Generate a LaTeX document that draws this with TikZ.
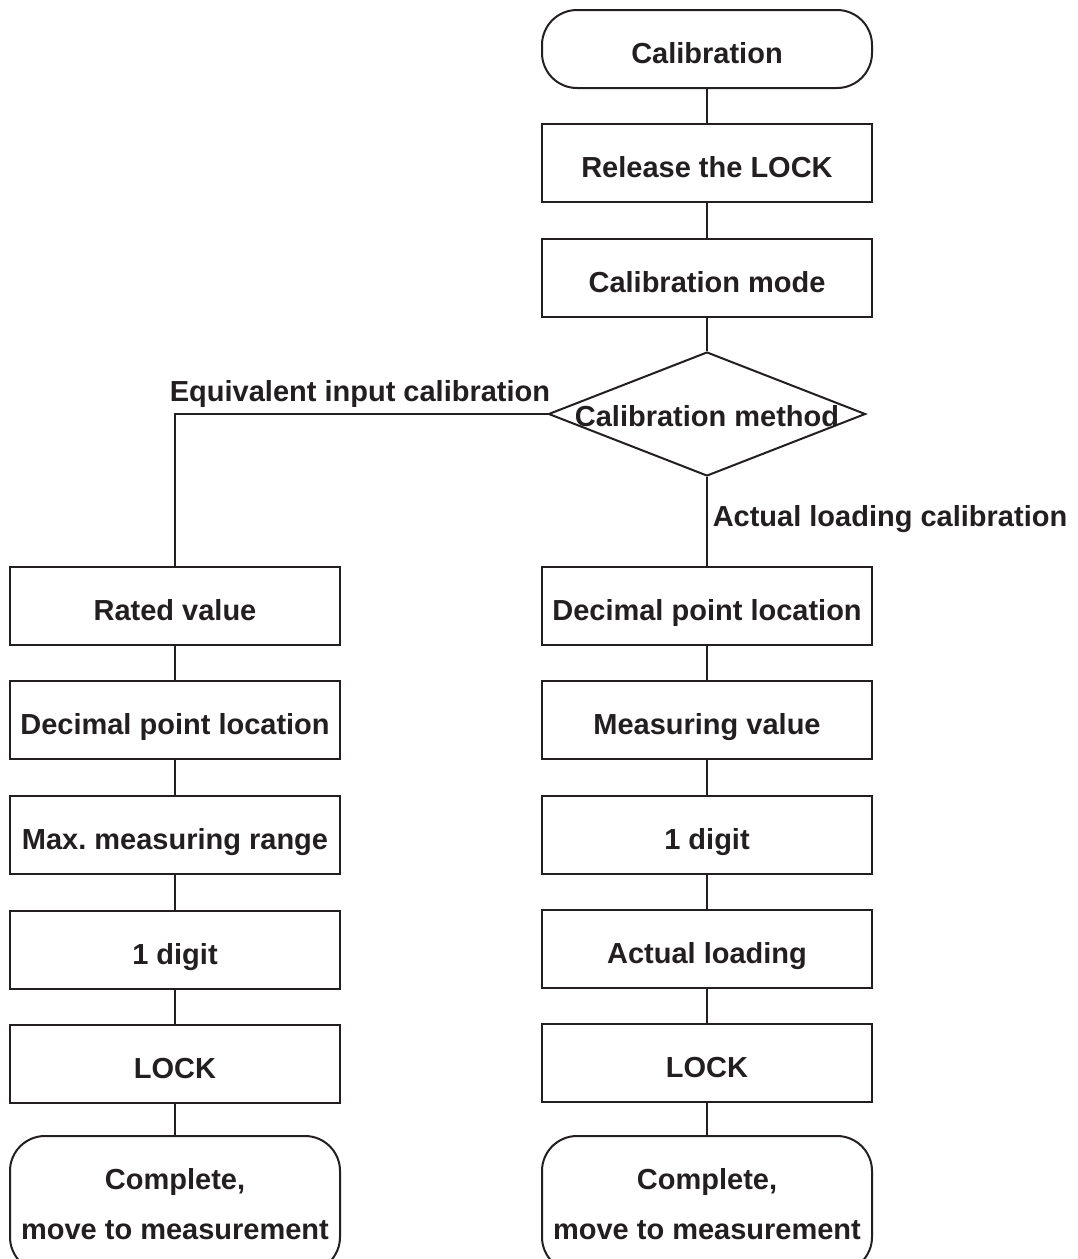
\documentclass[tikz,border=0pt]{standalone}
\usepackage{fontspec}
\setmainfont{Liberation Sans}
\usetikzlibrary{shapes.geometric}
\definecolor{ink}{HTML}{231F20}
\frenchspacing
\begin{document}
\begin{tikzpicture}[x=1pt,y=-1pt,
  every node/.style={font=\fontsize{29}{50}\selectfont\bfseries, text=ink},
  lowtext/.style={text height=28pt, text depth=0pt},
  frame/.style={draw=ink, line width=2pt, rectangle, minimum width=330pt, inner sep=0pt},
  box/.style={frame, lowtext, minimum height=78pt},
  term/.style={box, rounded corners=35pt},
  endterm/.style={frame, rounded corners=35pt, minimum height=136pt, align=center},
  conn/.style={draw=ink, line width=2pt}]
\useasboundingbox (0,0) rectangle (1077,1259);
\clip (0,0) rectangle (1077,1259);
% main trunk
\node[term] (cal) at (707,49) {Calibration};
\node[box] (rel) at (707,163) {Release the LOCK};
\node[box] (mode) at (707,278) {Calibration mode};
\node[diamond, draw=ink, line width=2pt, minimum width=317pt, minimum height=124pt, inner sep=0pt] (meth) at (707,414) {};
\node[lowtext] (methT) at (707,412) {Calibration method};
% right column
\node[box] (r1) at (707,606) {Decimal point location};
\node[box] (r2) at (707,720) {Measuring value};
\node[box] (r3) at (707,835) {1 digit};
\node[box] (r4) at (707,949) {Actual loading};
\node[box] (r5) at (707,1063) {LOCK};
\node[endterm] (r6) at (707,1204) {Complete,\\move to measurement};
% left column
\node[box] (l1) at (175,606) {Rated value};
\node[box] (l2) at (175,720) {Decimal point location};
\node[box] (l3) at (175,835) {Max. measuring range};
\node[box] (l4) at (175,950) {1 digit};
\node[box] (l5) at (175,1064) {LOCK};
\node[endterm] (l6) at (175,1204) {Complete,\\move to measurement};
% labels
\node[lowtext] (eq) at (360,387) {Equivalent input calibration};
\node[lowtext] (act) at (890,512) {Actual loading calibration};
% connectors
\draw[conn] (cal) -- (rel);
\draw[conn] (rel) -- (mode);
\draw[conn] (mode) -- (meth.north);
\draw[conn] (meth.south) -- (r1);
\draw[conn] (r1) -- (r2);
\draw[conn] (r2) -- (r3);
\draw[conn] (r3) -- (r4);
\draw[conn] (r4) -- (r5);
\draw[conn] (r5) -- (r6);
\draw[conn] (meth.west) -| (l1.north);
\draw[conn] (l1) -- (l2);
\draw[conn] (l2) -- (l3);
\draw[conn] (l3) -- (l4);
\draw[conn] (l4) -- (l5);
\draw[conn] (l5) -- (l6);
\end{tikzpicture}
\end{document}
